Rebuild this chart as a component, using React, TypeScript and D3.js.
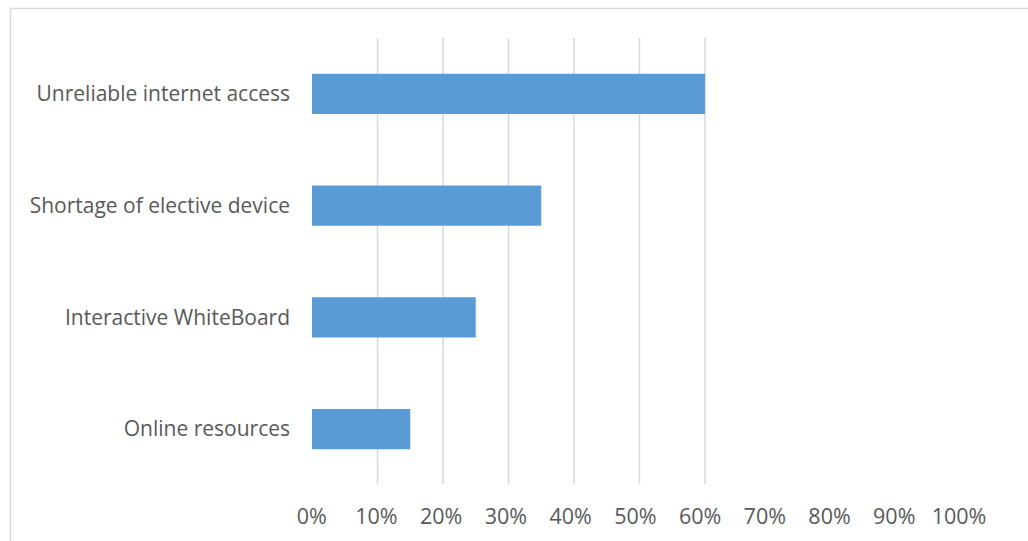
import React from "react";
import * as d3 from "d3";

const categories = [
  "Unreliable internet access",
  "Shortage of elective device",
  "Interactive WhiteBoard",
  "Online resources",
];
const values = [0.6, 0.35, 0.25, 0.15];
const tickValues = [0, 0.1, 0.2, 0.3, 0.4, 0.5, 0.6, 0.7, 0.8, 0.9, 1.0];
const gridValues = [0.1, 0.2, 0.3, 0.4, 0.5, 0.6];

const W = 1028;
const H = 541;

export default function App() {
  const x = d3.scaleLinear().domain([0, 1]).range([312, 967]);
  const xLabel = d3.scaleLinear().domain([0, 1]).range([311.7, 959]);
  const y = d3
    .scaleBand<string>()
    .domain(categories)
    .range([38, 485])
    .paddingInner(0.64)
    .paddingOuter(0.32);
  const fmt = d3.format(".0%");
  const font = "'Open Sans', sans-serif";

  return (
    <svg
      width={W}
      height={H}
      style={{ position: "absolute", left: 0, top: 0, background: "#fff" }}
    >
      <rect x={10.5} y={8.5} width={1100} height={600} fill="#fff" stroke="#d9d9d9" strokeWidth={1.5} />
      {gridValues.map((v) => (
        <line
          key={v}
          x1={x(v)}
          x2={x(v)}
          y1={38}
          y2={484}
          stroke="#d9d9d9"
          strokeWidth={1.5}
        />
      ))}
      {categories.map((c, i) => (
        <rect
          key={c}
          x={x(0)}
          y={y(c)}
          width={x(values[i]) - x(0)}
          height={y.bandwidth()}
          fill="#5b9bd5"
        />
      ))}
      {categories.map((c) => (
        <text
          key={c}
          x={290}
          y={(y(c) as number) + y.bandwidth() / 2}
          dy="0.35em"
          textAnchor="end"
          fontFamily={font}
          fontSize={21}
          fill="#595959"
        >
          {c}
        </text>
      ))}
      {tickValues.map((v) => (
        <text
          key={v}
          x={xLabel(v)}
          y={516}
          dy="0.35em"
          textAnchor="middle"
          fontFamily={font}
          fontSize={21.5}
          fill="#595959"
        >
          {fmt(v)}
        </text>
      ))}
    </svg>
  );
}
